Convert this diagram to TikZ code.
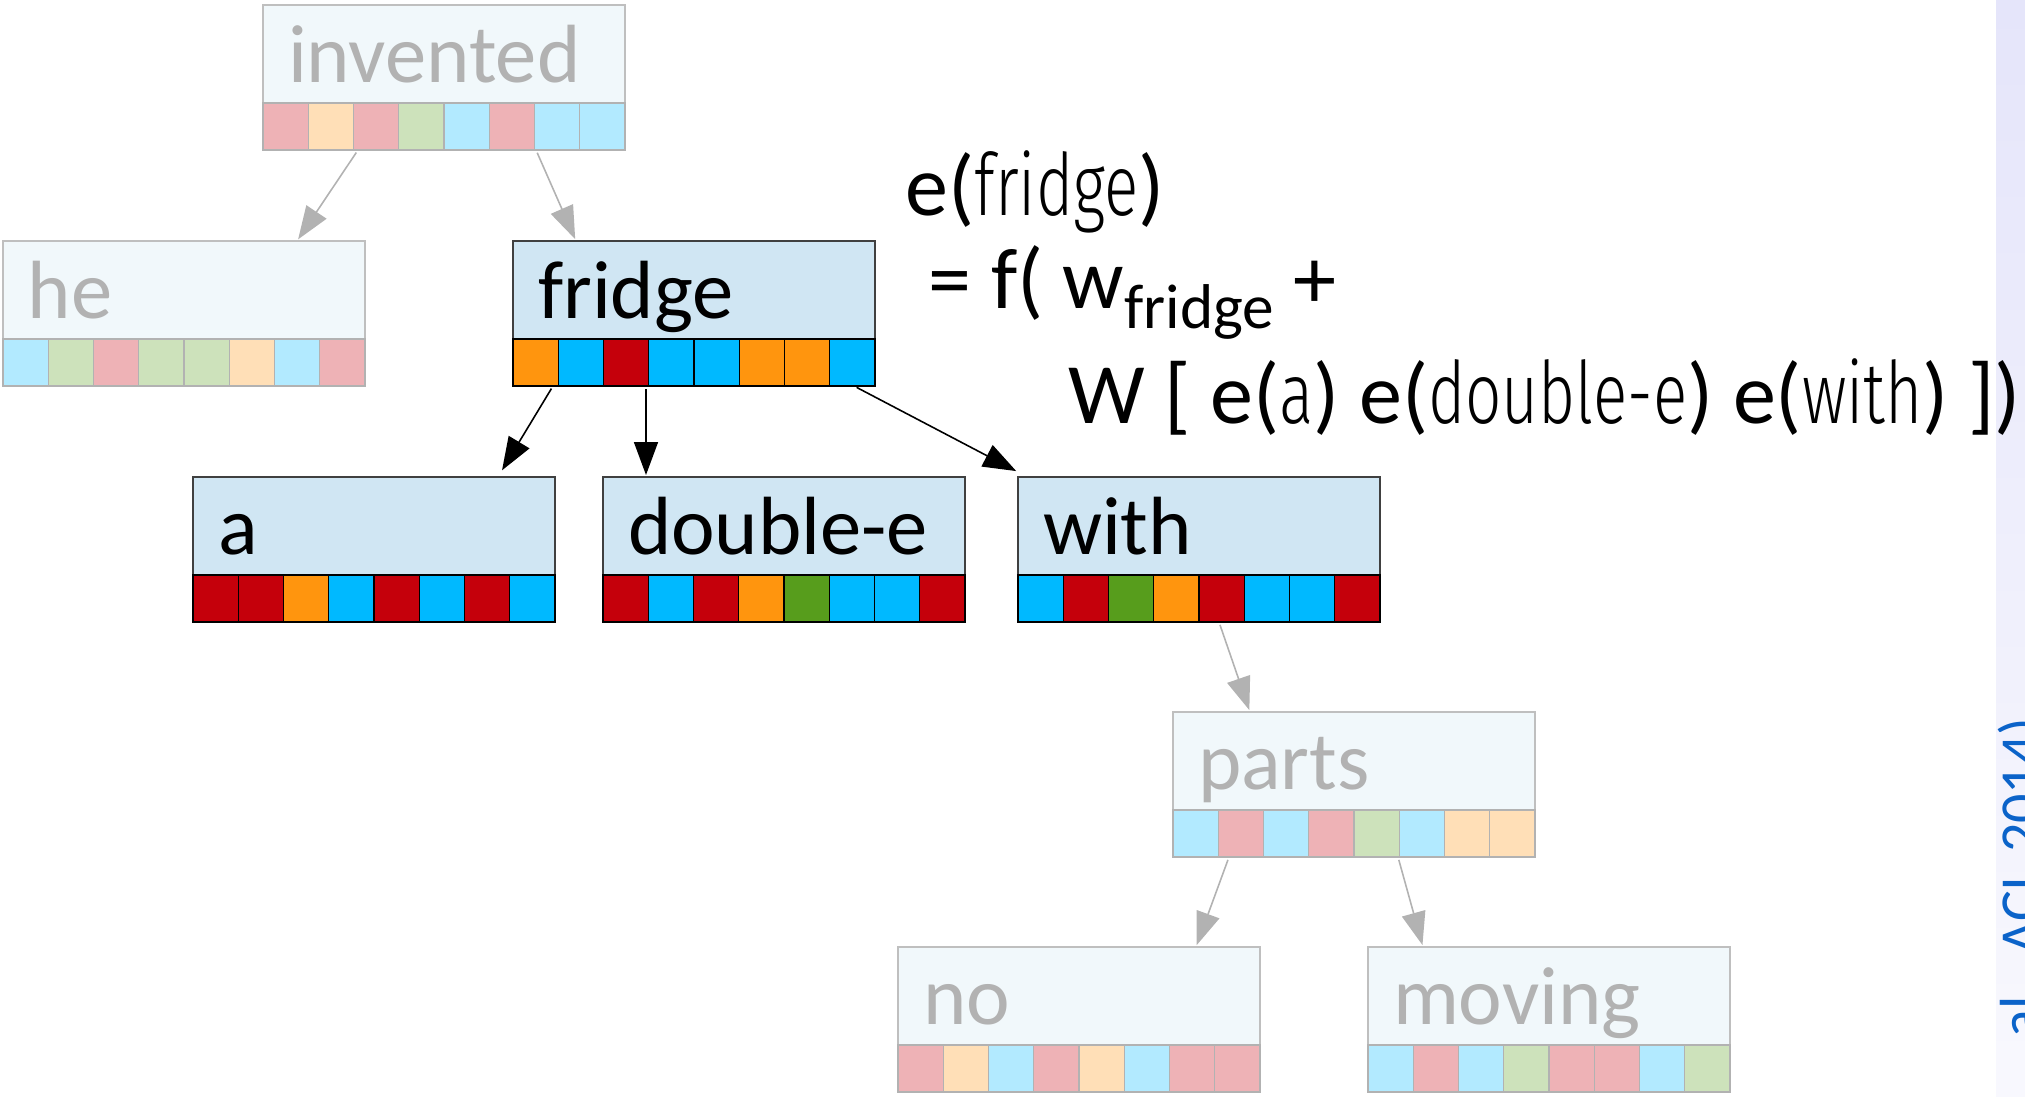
\documentclass[tikz,border=0pt]{standalone}
\usepackage{fontspec}
\setmainfont{Carlito}
\newfontfamily\thinfont{Fira Sans Light}[FakeStretch=0.74]
\usetikzlibrary{arrows.meta,positioning}

\definecolor{cred}{HTML}{C5000B}
\definecolor{corange}{HTML}{FF950E}
\definecolor{cblue}{HTML}{00B9FF}
\definecolor{cgreen}{HTML}{579D1C}
\definecolor{wordfill}{HTML}{D0E6F3}
\definecolor{citeblue}{HTML}{0B63C9}
\definecolor{sidebar}{HTML}{E5E5FA}

% one row of vector cells under a word: strip node, tint, colours
\newcommand{\cells}[3]{%
  \foreach \c [count=\i from 0] in {#3}
    \draw[draw=black!#2, fill=\c!#2, line width=0.4pt]
      ([xshift=\i*0.4525cm]#1.north west) rectangle ([xshift=\i*0.4525cm+0.4525cm]#1.south west);
}

\begin{document}
\begin{tikzpicture}[
    word/.style={draw=black!75, fill=wordfill, anchor=north west, inner xsep=0.25cm, inner ysep=0pt,
      outer sep=0pt, text width=3.12cm, text height=0.77cm, text depth=0.21cm, align=left,
      font=\fontsize{23.5}{28}\selectfont},
    faded/.style={draw=black!25, fill=wordfill!30, text=black!30},
    vec/.style={minimum width=3.62cm, minimum height=0.47cm, inner sep=0pt, outer sep=0pt},
    arr/.style={-{Triangle[length=0.33cm, width=0.24cm]}, line width=0.45pt, shorten <=0.03cm, shorten >=0.02cm},
    fadedarr/.style={arr, draw=black!30},
    eq/.style={anchor=base west, inner sep=0pt, font=\fontsize{24.5}{29}\selectfont}
  ]
  \useasboundingbox (0,0) rectangle (20.25,-10.96);
  \clip (0,0) rectangle (20.25,-10.96);

  % side bar and citation
  \shade[top color=sidebar, bottom color=sidebar!25] (19.96,0) rectangle (20.25,-10.96);
  \node[rotate=90, anchor=base east, inner sep=0pt, text=citeblue, font=\fontsize{16.5}{17}\selectfont]
    (cite) at (20.40,-7.17) {al., ACL 2014)};

  % top of the tree
  \node[word, faded] (invented) at (2.63,-0.05) {invented};
  \node[vec, below=0pt of invented] (invented-v) {};
  \cells{invented-v}{30}{cred,corange,cred,cgreen,cblue,cred,cblue,cblue}

  \node[word, faded] (he) at (0.03,-2.41) {he};
  \node[vec, below=0pt of he] (he-v) {};
  \cells{he-v}{30}{cblue,cgreen,cred,cgreen,cgreen,corange,cblue,cred}

  \node[word] (fridge) at (5.13,-2.41) {fridge};
  \node[vec, below=0pt of fridge] (fridge-v) {};
  \cells{fridge-v}{100}{corange,cblue,cred,cblue,cblue,corange,corange,cblue}

  % children of fridge
  \node[word] (a) at (1.93,-4.77) {a};
  \node[vec, below=0pt of a] (a-v) {};
  \cells{a-v}{100}{cred,cred,corange,cblue,cred,cblue,cred,cblue}

  \node[word] (double-e) at (6.03,-4.77) {double-e};
  \node[vec, below=0pt of double-e] (double-e-v) {};
  \cells{double-e-v}{100}{cred,cblue,cred,corange,cgreen,cblue,cblue,cred}

  \node[word] (with) at (10.18,-4.77) {with};
  \node[vec, below=0pt of with] (with-v) {};
  \cells{with-v}{100}{cblue,cred,cgreen,corange,cred,cblue,cblue,cred}

  % lower part
  \node[word, faded] (parts) at (11.73,-7.12) {parts};
  \node[vec, below=0pt of parts] (parts-v) {};
  \cells{parts-v}{30}{cblue,cred,cblue,cred,cgreen,cblue,corange,corange}

  \node[word, faded] (no) at (8.98,-9.47) {no};
  \node[vec, below=0pt of no] (no-v) {};
  \cells{no-v}{30}{cred,corange,cblue,cred,corange,cblue,cred,cred}

  \node[word, faded] (moving) at (13.68,-9.47) {moving};
  \node[vec, below=0pt of moving] (moving-v) {};
  \cells{moving-v}{30}{cblue,cred,cblue,cgreen,cred,cred,cblue,cgreen}

  % arrows
  \draw[fadedarr] ([xshift=0.95cm]invented-v.south west) -- ([xshift=2.94cm]he.north west);
  \draw[fadedarr] ([xshift=2.73cm]invented-v.south west) -- ([xshift=0.63cm]fridge.north west);
  \draw[arr] ([xshift=0.40cm]fridge-v.south west) -- ([xshift=3.08cm,yshift=0.05cm]a.north west);
  \draw[arr] ([xshift=1.33cm]fridge-v.south west) -- ([xshift=0.43cm]double-e.north west);
  \draw[arr] ([xshift=3.41cm]fridge-v.south west) -- ([yshift=0.05cm]with.north west);
  \draw[fadedarr] ([xshift=2.01cm]with-v.south west) -- ([xshift=0.77cm]parts.north west);
  \draw[fadedarr] ([xshift=0.56cm]parts-v.south west) -- ([xshift=2.98cm]no.north west);
  \draw[fadedarr] ([xshift=2.25cm]parts-v.south west) -- ([xshift=0.55cm]moving.north west);

  % composition formula
  \node[eq] (eq-lhs) at (9.05,-2.15) {e({\thinfont fridge})};
  \node[eq] (eq-sum) at (9.28,-3.08) {= f( w\raisebox{-0.2cm}{\fontsize{18}{18}\selectfont fridge} +};
  \node[eq] (eq-kids) at (10.68,-4.23) {W [ e({\thinfont a}) e({\thinfont double-e}) e({\thinfont with}) ])};
\end{tikzpicture}
\end{document}
